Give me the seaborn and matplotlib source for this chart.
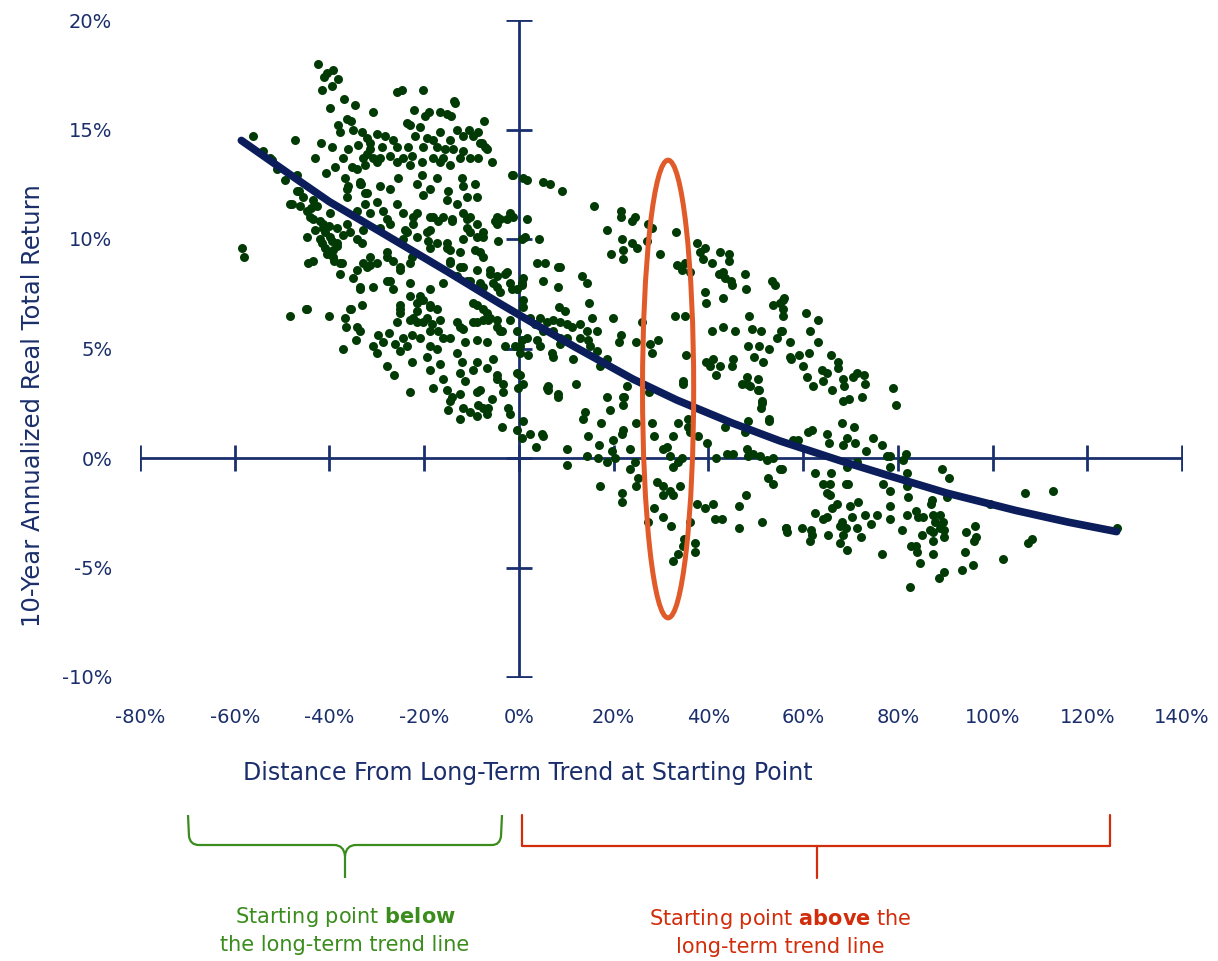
import numpy as np
import pandas as pd
import matplotlib
matplotlib.use("Agg")
import matplotlib.pyplot as plt
from matplotlib.patches import Ellipse, PathPatch
from matplotlib.path import Path
import seaborn as sns

# ---- data (percent) ----
# starting points far below trend (x < -30)
far_below = [
    (-42.4, 18.0), (-40.5, 17.6), (-39.3, 17.7), (-41.2, 17.4), (-38.2, 17.3), (-39.5, 17.0), (-41.6, 16.8),
    (-37.0, 16.4), (-39.9, 16.0), (-34.6, 16.1), (-30.8, 15.8), (-36.3, 15.5), (-35.5, 15.4), (-38.2, 15.2),
    (-37.8, 14.9), (-35.1, 15.0), (-33.2, 14.9), (-32.1, 14.6), (-56.2, 14.7), (-47.3, 14.5), (-41.8, 14.4),
    (-39.5, 14.2), (-34.0, 14.3), (-36.1, 14.1), (-37.2, 13.7), (-31.5, 14.1), (-33.0, 13.7), (-30.8, 13.7),
    (-43.1, 13.7), (-38.9, 13.3), (-35.3, 13.3), (-32.5, 13.4), (-40.8, 13.0), (-36.7, 12.8), (-33.6, 12.6),
    (-52.2, 13.6), (-51.1, 13.2), (-46.9, 12.9), (-49.4, 12.7), (-54.1, 14.0), (-52.6, 13.7),
    (-30.0, 14.8), (-31.5, 14.4), (-32.1, 13.9), (-30.0, 13.5), (-34.2, 13.2), (-36.1, 12.4), (-33.4, 12.5),
    (-36.3, 11.9), (-32.1, 12.1), (-30.0, 11.7), (-47.9, 11.6), (-46.3, 11.5), (-44.8, 11.3), (-42.7, 11.5),
    (-39.9, 11.2), (-34.2, 11.3), (-31.5, 11.2), (-44.1, 11.0), (-41.4, 10.7), (-38.4, 10.5), (-36.3, 10.7),
    (-33.0, 10.4), (-44.8, 10.1), (-42.0, 10.0), (-39.9, 10.1), (-37.2, 10.2), (-34.2, 10.0), (-58.5, 9.6),
    (-58.1, 9.2), (-44.6, 8.9), (-43.5, 9.0), (-41.0, 9.6), (-39.3, 9.5), (-37.8, 8.9), (-33.2, 9.8),
    (-31.5, 9.2), (-30.0, 8.9), (-37.8, 8.4), (-35.1, 8.2), (-33.6, 7.8), (-30.8, 7.8), (-32.1, 8.7),
    (-48.4, 11.6), (-46.9, 12.2), (-43.5, 10.9), (-41.4, 10.5), (-38.4, 9.8), (-39.3, 9.2), (-37.4, 8.9),
    (-34.2, 8.6), (-35.7, 10.3), (-36.3, 12.3), (-33.6, 12.5), (-32.5, 12.1), (-32.5, 11.6), (-44.8, 6.8),
    (-35.7, 6.8), (-33.0, 8.9), (-31.5, 8.8), (-42.0, 10.8), (-41.0, 10.3), (-40.0, 10.6), (-39.5, 9.9),
    (-38.5, 9.7), (-40.5, 9.3), (-39.0, 9.0), (-41.5, 9.8), (-43.0, 10.4), (-44.0, 11.4), (-45.5, 11.9),
    (-46.5, 12.2), (-43.5, 11.8), (-48.4, 6.5), (-45.0, 6.8), (-40.1, 6.5), (-36.7, 6.4), (-35.5, 6.8),
    (-33.2, 7.0), (-33.6, 7.7), (-36.5, 6.0), (-34.2, 6.0), (-33.6, 5.8), (-37.2, 5.0), (-34.4, 5.4),
    (-30.8, 5.1),
]

# starting points moderately below trend (-30 <= x < 0)
near_below = [
    (-25.8, 16.7), (-24.7, 16.8), (-20.3, 16.8), (-13.7, 16.3), (-22.2, 15.9), (-19.0, 15.8), (-19.9, 15.6),
    (-16.7, 15.8), (-15.2, 15.7), (-14.4, 15.6), (-23.7, 15.3), (-23.0, 15.2), (-7.4, 15.4), (-20.9, 15.1),
    (-16.7, 14.9), (-13.1, 15.0), (-10.6, 15.0), (-8.7, 14.9), (-28.3, 14.7), (-26.6, 14.5), (-22.0, 14.7),
    (-19.4, 14.6), (-18.2, 14.5), (-14.6, 14.5), (-11.8, 14.7), (-9.7, 14.7), (-7.8, 14.4), (-28.9, 14.2),
    (-25.8, 14.2), (-23.4, 14.2), (-20.3, 14.2), (-17.3, 14.2), (-15.6, 14.1), (-13.9, 14.1), (-11.8, 14.0),
    (-7.2, 14.2), (-29.4, 13.7), (-27.2, 13.8), (-24.5, 13.7), (-22.6, 13.8), (-18.2, 13.7), (-16.1, 13.7),
    (-12.5, 13.7), (-10.3, 13.7), (-8.7, 13.7), (-5.7, 13.5), (-25.8, 13.5), (-23.0, 13.4), (-20.5, 13.5),
    (-16.7, 13.5), (-14.6, 13.4), (-25.6, 12.8), (-20.5, 12.9), (-17.3, 12.8), (-12.0, 12.8), (-1.3, 12.9),
    (-29.4, 12.4), (-27.2, 12.3), (-21.5, 12.5), (-18.8, 12.3), (-15.0, 12.2), (-11.8, 12.4), (-9.3, 12.5),
    (-25.8, 11.6), (-20.3, 12.0), (-15.2, 11.8), (-13.1, 11.6), (-11.0, 11.9), (-8.9, 11.9), (-28.7, 11.3),
    (-24.5, 11.2), (-21.5, 11.2), (-18.2, 11.0), (-16.1, 11.0), (-11.8, 11.2), (-10.3, 11.0), (-4.6, 11.0),
    (-1.9, 11.2), (-29.4, 10.5), (-27.2, 10.7), (-24.1, 10.4), (-22.4, 10.7), (-18.8, 10.4), (-14.1, 10.8),
    (-11.0, 10.5), (-7.6, 10.3), (-4.6, 10.7), (-1.3, 11.0), (-24.5, 10.0), (-21.5, 10.1), (-19.2, 9.9),
    (-15.2, 9.8), (-11.8, 10.0), (-8.9, 10.1), (-4.4, 9.9), (-27.9, 9.4), (-26.6, 9.0), (-22.6, 9.2),
    (-18.8, 9.6), (-17.3, 9.8), (-14.6, 9.5), (-12.5, 9.4), (-9.3, 9.5), (-7.6, 9.2), (-14.6, 8.9),
    (-11.8, 8.7), (-8.9, 8.6), (-6.1, 8.6), (-4.6, 8.3), (-2.5, 8.5), (-1.9, 8.0), (-27.2, 8.1),
    (-25.1, 8.6), (-23.0, 8.0), (-20.9, 7.4), (-18.8, 7.7), (-16.1, 8.0), (-13.1, 8.3), (-10.3, 8.1),
    (-7.6, 7.8), (-4.6, 7.8), (-13.5, 16.2), (-8.2, 14.4), (-6.8, 14.1), (-1.5, 12.9), (-27.9, 10.9),
    (-22.4, 11.0), (-18.8, 11.0), (-17.1, 10.8), (-14.1, 10.9), (-11.0, 10.9), (-8.9, 10.7), (-5.1, 10.8),
    (-23.7, 10.3), (-19.4, 10.3), (-10.3, 10.3), (-7.6, 10.1), (-15.2, 9.6), (-8.2, 9.4), (-27.9, 9.2),
    (-25.1, 8.7), (-23.0, 8.9), (-14.6, 9.0), (-12.5, 8.7), (-6.1, 8.4), (-11.0, 8.1), (-8.2, 8.0),
    (-5.5, 8.0), (-4.0, 7.6), (-1.5, 7.7), (-27.9, 8.1), (-26.6, 7.7), (-23.0, 7.4), (-20.9, 7.2),
    (-18.8, 7.0), (-9.7, 7.1), (-7.6, 6.8), (-6.1, 6.4), (-4.6, 6.3), (-8.9, 6.2), (-12.5, 6.0),
    (-20.3, 6.2), (-22.4, 6.4), (-25.1, 6.8), (-1.9, 6.3), (-29.8, 5.6), (-28.7, 5.3), (-27.5, 5.7),
    (-30.0, 4.8), (-26.2, 5.2), (-25.1, 4.9), (-23.7, 5.1), (-24.5, 5.5), (-22.6, 5.6), (-20.9, 5.5),
    (-27.9, 4.2), (-26.4, 3.8), (-22.6, 4.4), (-23.0, 3.0), (-25.8, 6.2), (-25.1, 6.6), (-25.1, 7.0),
    (-21.5, 7.1), (-21.5, 6.7), (-20.3, 7.2), (-18.8, 6.9), (-17.3, 6.8), (-23.0, 6.3), (-21.5, 6.2),
    (-19.4, 6.4), (-18.4, 6.1), (-16.7, 6.3), (-18.8, 5.8), (-17.1, 5.8), (-16.1, 5.5), (-14.6, 5.5),
    (-18.8, 5.1), (-17.3, 5.0), (-19.4, 4.6), (-16.7, 4.3), (-18.8, 4.0), (-16.1, 3.6), (-18.2, 3.2),
    (-13.1, 6.2), (-11.8, 5.9), (-9.7, 6.2), (-11.4, 5.3), (-13.1, 4.8), (-12.0, 4.4), (-9.7, 4.0),
    (-8.9, 4.4), (-12.5, 3.9), (-11.4, 3.5), (-8.9, 3.0), (-8.7, 2.4), (-12.5, 2.9), (-14.1, 2.8),
    (-15.0, 2.2), (-12.5, 1.8), (-8.9, 1.9), (-6.8, 2.0), (-7.6, 2.3), (-6.5, 2.3), (-5.7, 2.7),
    (-8.9, 5.4), (-6.8, 5.3), (-5.5, 4.5), (-6.8, 4.1), (-4.6, 3.8), (-3.4, 3.4), (-4.6, 3.6),
    (-3.4, 3.0), (-2.3, 2.3), (-1.9, 2.0), (-3.6, 1.4), (-0.4, 1.3), (-6.8, 6.6), (-7.6, 6.3),
    (-4.6, 6.0), (-4.0, 5.8), (-8.9, 7.0), (-6.5, 6.3), (-0.8, 5.1), (-0.4, 3.9), (-0.2, 3.2),
    (-0.4, 7.7), (-15.2, 3.1), (-14.6, 2.6), (-11.8, 2.3), (-10.3, 2.1), (-8.2, 3.1), (-2.5, 10.9),
    (-4.0, 10.9), (-3.0, 8.4), (-0.4, 5.8), (-3.6, 5.8), (-3.0, 5.1),
]

# starting points moderately above trend (0 <= x < 40)
near_above = [
    (0.8, 12.8), (1.7, 12.7), (5.1, 12.6), (6.5, 12.5), (9.1, 12.2), (1.7, 10.9), (15.8, 11.5),
    (21.5, 11.3), (21.5, 11.0), (23.9, 10.8), (24.5, 11.0), (28.1, 10.5), (27.2, 10.7), (18.6, 10.4),
    (0.6, 10.0), (1.3, 10.1), (4.2, 10.0), (21.8, 10.0), (23.9, 9.8), (24.9, 9.6), (27.0, 9.9),
    (33.2, 10.3), (22.0, 9.5), (19.4, 9.3), (22.0, 9.1), (29.8, 9.3), (37.6, 9.8), (39.3, 9.6),
    (38.2, 9.4), (38.9, 9.1), (3.8, 8.9), (5.5, 8.9), (33.4, 8.8), (35.1, 8.9), (34.4, 8.6),
    (36.1, 8.5), (8.2, 8.7), (8.7, 8.7), (13.3, 8.3), (14.4, 8.0), (5.1, 8.1), (0.8, 8.2),
    (0.6, 8.0), (8.2, 7.8), (39.3, 7.6), (39.5, 7.1), (14.8, 7.1), (8.4, 6.9), (9.7, 6.7),
    (15.4, 6.4), (19.9, 6.4), (26.0, 6.2), (32.9, 6.5), (35.1, 6.5), (21.5, 5.6), (21.1, 5.3),
    (24.7, 5.3), (27.7, 5.2), (29.4, 5.4), (28.1, 4.8), (35.3, 4.7), (39.5, 4.4), (34.6, 3.5),
    (18.6, 4.5), (17.1, 4.2), (12.0, 3.4), (6.1, 3.3), (6.1, 3.1), (8.2, 2.8), (22.8, 3.3),
    (18.6, 2.8), (22.0, 2.8), (0.8, 7.2), (0.8, 6.9), (0.6, 7.9), (0.2, 3.8), (0.8, 3.4),
    (0.8, 1.7), (0.6, 0.9), (2.3, 6.4), (4.4, 6.4), (3.4, 6.1), (5.9, 6.2), (7.2, 6.3),
    (8.7, 6.2), (10.1, 6.1), (11.2, 6.0), (12.9, 6.1), (14.4, 5.8), (16.5, 5.8), (5.1, 5.8),
    (7.2, 5.8), (8.7, 5.5), (10.1, 5.5), (12.9, 5.5), (14.6, 5.4), (4.4, 5.1), (7.0, 4.8),
    (7.2, 4.6), (1.9, 4.7), (0.2, 5.1), (0.2, 4.8), (11.4, 4.5), (8.7, 5.2), (15.0, 5.1),
    (16.5, 4.9), (3.8, 5.4), (1.7, 5.5), (0.6, 5.4), (5.9, 3.2), (8.2, 2.9), (2.3, 1.1),
    (4.9, 1.1), (5.1, 1.0), (3.6, 0.5), (10.1, 0.4), (10.1, -0.3), (13.9, 2.1), (13.5, 1.8),
    (17.3, 1.6), (19.2, 2.2), (22.2, 2.8), (22.0, 2.4), (14.6, 1.0), (16.9, 0.6), (14.4, 0.1),
    (16.7, 0.0), (19.6, 0.3), (20.3, 0.0), (18.6, -0.2), (19.9, 0.8), (22.0, 1.3), (21.8, 1.1),
    (23.4, 0.4), (23.4, -0.5), (24.5, -0.2), (24.7, 1.6), (27.5, 3.0), (28.1, 1.6), (28.5, 1.0),
    (30.4, 0.4), (31.3, 0.5), (31.9, 0.1), (32.5, 1.0), (32.5, -0.4), (33.6, -0.2), (34.4, 0.0),
    (33.6, 1.6), (35.7, 1.8), (35.7, 1.4), (36.1, 1.2), (34.6, 3.4), (37.8, 1.0), (39.7, 0.7),
    (17.1, -1.3), (21.8, -1.6), (21.8, -2.0), (24.7, -1.3), (25.1, -0.9), (29.1, -1.1), (30.4, -1.3),
    (31.9, -1.5), (32.5, -1.7), (34.0, -1.3), (30.4, -1.7), (28.5, -2.3), (30.4, -2.7), (27.2, -2.9),
    (32.1, -3.1), (36.1, -2.9), (37.6, -2.1), (39.3, -2.3), (34.8, -3.7), (34.6, -4.0), (37.2, -3.9),
    (37.2, -4.3), (33.6, -4.4), (32.5, -4.7),
]

# starting points far above trend (x >= 40)
far_above = [
    (41.6, 0.0), (43.9, 0.2), (45.2, 0.2), (48.2, 0.4), (48.4, 0.1), (49.4, 0.2), (50.9, 0.1),
    (52.4, -0.1), (53.6, 0.0), (55.1, -0.5), (52.6, -0.9), (53.6, -1.2), (47.7, 1.2), (48.4, 1.7),
    (52.8, 1.7), (51.3, 2.5), (48.2, 3.4), (50.5, 3.1), (57.9, 0.8), (43.5, 1.4), (41.0, -2.1),
    (41.4, -2.8), (42.9, -2.8), (46.5, -2.2), (46.5, -3.2), (47.9, -1.7), (51.3, -2.9), (56.4, -3.2),
    (56.6, -3.4), (42.5, 9.4), (44.4, 9.3), (44.4, 9.0), (40.8, 8.9), (42.2, 8.4), (43.1, 8.5),
    (43.5, 8.2), (44.8, 8.1), (45.0, 7.9), (47.7, 8.4), (47.9, 7.7), (53.4, 8.1), (54.1, 7.9),
    (43.1, 7.3), (53.6, 7.0), (55.1, 7.1), (56.0, 7.3), (55.8, 6.8), (55.8, 6.5), (48.6, 6.5),
    (60.6, 6.6), (63.1, 6.3), (40.8, 5.8), (43.1, 6.0), (45.6, 5.8), (49.2, 5.9), (51.1, 5.8),
    (55.3, 5.8), (54.5, 5.5), (61.5, 5.8), (48.4, 5.1), (50.7, 5.1), (52.8, 5.0), (57.2, 5.3),
    (63.1, 5.3), (49.6, 4.6), (51.5, 4.4), (57.2, 4.6), (59.1, 4.7), (61.2, 4.8), (60.0, 4.2),
    (65.9, 4.7), (67.4, 4.4), (67.4, 4.1), (64.0, 4.0), (65.0, 3.9), (60.8, 3.7), (62.0, 3.3),
    (64.2, 3.5), (66.1, 3.1), (68.4, 3.6), (68.6, 3.3), (70.5, 3.7), (71.4, 3.9), (72.9, 3.8),
    (73.1, 3.4), (68.4, 2.6), (69.7, 2.7), (72.4, 2.8), (41.0, 4.5), (40.3, 4.2), (42.5, 4.2),
    (41.6, 3.8), (45.2, 4.5), (45.0, 4.2), (48.2, 3.7), (47.1, 3.4), (48.8, 3.3), (50.5, 3.6),
    (50.7, 3.1), (51.3, 2.6), (51.1, 2.3), (52.8, 1.8), (55.8, 7.2), (55.5, 5.8), (57.4, 4.5),
    (79.0, 3.2), (79.6, 2.4), (68.2, 1.6), (70.8, 1.4), (61.0, 1.2), (61.9, 1.3), (65.0, 1.1),
    (69.3, 0.9), (68.4, 0.6), (65.5, 0.7), (71.0, 0.7), (74.8, 0.9), (76.7, 0.6), (73.3, 0.3),
    (77.7, 0.1), (78.4, 0.1), (81.7, 0.2), (81.1, -0.1), (58.9, 0.8), (55.5, -0.5), (62.5, -0.7),
    (65.9, -0.7), (71.4, -0.2), (69.3, -0.4), (78.4, -0.4), (81.9, -0.7), (89.3, -0.5), (90.8, -0.9),
    (64.2, -1.2), (65.7, -1.2), (69.1, -1.2), (69.5, -1.2), (65.0, -1.6), (65.7, -1.7), (76.9, -1.2),
    (78.4, -1.5), (81.9, -1.3), (82.2, -1.8), (67.2, -2.1), (66.1, -2.3), (71.6, -2.0), (69.9, -2.2),
    (78.4, -2.2), (87.2, -1.9), (87.0, -2.1), (62.5, -2.5), (64.2, -2.8), (65.0, -2.7), (70.3, -2.7),
    (73.1, -2.6), (75.6, -2.6), (74.3, -3.0), (78.4, -2.8), (81.9, -2.6), (83.8, -2.4), (84.3, -2.7),
    (85.3, -2.7), (87.4, -2.6), (88.9, -2.6), (87.9, -2.9), (89.5, -2.9), (88.9, -3.2), (89.8, -3.6),
    (87.4, -3.8), (87.4, -3.4), (56.4, -3.2), (59.8, -3.2), (61.7, -3.3), (61.9, -3.5), (61.5, -3.8),
    (65.3, -3.5), (67.8, -3.1), (68.2, -2.9), (69.1, -3.2), (71.4, -3.2), (72.2, -3.6), (68.4, -3.5),
    (67.8, -3.9), (69.3, -4.2), (76.7, -4.4), (80.9, -3.3), (82.8, -4.0), (83.8, -4.0), (84.1, -4.3),
    (84.7, -4.8), (85.1, -3.5), (86.8, -3.3), (89.8, -3.3), (87.4, -4.4), (89.8, -5.2), (88.7, -5.5),
    (82.6, -5.9), (94.4, -3.4), (96.3, -3.1), (96.5, -3.6), (96.1, -3.8), (94.2, -4.3), (95.9, -4.9),
    (93.6, -5.1), (102.2, -4.6), (106.9, -1.6), (112.8, -1.5), (108.3, -3.7), (107.5, -3.9), (126.3, -3.2),
    (99.5, -2.1), (90.4, -1.8),
]

# trend line
trend_x = [-58.6, -47.7, -40, -29.4, -15, -4, 2.3, 12, 24.1, 33.3, 45, 55.1, 67.8, 78, 90.3, 105, 116, 126.2]
trend_y = [14.5, 12.85, 11.7, 10.35, 8.5, 7.05, 6.25, 5.05, 3.6, 2.65, 1.6, 0.78, -0.12, -0.8, -1.6, -2.4, -2.93, -3.36]

x_ticks = [-80, -60, -40, -20, 0, 20, 40, 60, 80, 100, 120, 140]
y_ticks = [-10, -5, 0, 5, 10, 15, 20]

# highlighted group (orange ring): centre and size in percent
ring_center = (31.5, 3.15)
ring_size = (10.8, 20.9)

GREEN = "#023a05"
NAVY = "#0b1d5a"
AXIS = "#1a2f6e"
TEXT = "#1a2e6b"
ORANGE = "#e05a2a"
BRACE_GREEN = "#3a8c1c"
BRACE_RED = "#d22d0b"

pts = pd.DataFrame(far_below + near_below + near_above + far_above, columns=["dist", "ret"])

sns.set_theme(style="white")
plt.rcParams["font.family"] = ["DejaVu Sans"]
plt.rcParams["mathtext.fontset"] = "dejavusans"

W, H = 1218, 961
fig = plt.figure(figsize=(W / 100, H / 100), dpi=100)
ax = fig.add_axes([140 / W, 1 - 677 / H, 1042 / W, 657 / H])

# cross-hair axes through the origin
ax.axhline(0, color=AXIS, lw=2, zorder=1)
ax.axvline(0, color=AXIS, lw=2, zorder=1)
ax.plot(x_ticks, [0] * len(x_ticks), ls="none", marker="|", ms=19, mew=2, color=AXIS, zorder=1)
ax.plot([0] * len(y_ticks), y_ticks, ls="none", marker="_", ms=19, mew=2, color=AXIS, zorder=1)

sns.scatterplot(data=pts, x="dist", y="ret", color=GREEN, s=42, linewidth=0, ax=ax, zorder=2)
sns.lineplot(x=trend_x, y=trend_y, sort=False, color=NAVY, lw=5.5, ax=ax, zorder=3,
             solid_capstyle="round")

ax.add_patch(Ellipse(ring_center, ring_size[0], ring_size[1], fill=False,
                     edgecolor=ORANGE, lw=3.6, zorder=4))

ax.set_xlim(-80, 140)
ax.set_ylim(-10, 20)
ax.set_xticks(x_ticks)
ax.set_xticklabels([f"{t}%" for t in x_ticks])
ax.set_yticks(y_ticks)
ax.set_yticklabels([f"{t}%" for t in y_ticks])
ax.tick_params(axis="both", length=0, labelsize=14, labelcolor=TEXT)
ax.tick_params(axis="x", pad=22)
ax.tick_params(axis="y", pad=20)
ax.set_xlabel("")
ax.set_ylabel("")
for sp in ax.spines.values():
    sp.set_visible(False)
ax.patch.set_alpha(0)

fig.text(528 / W, 1 - 773 / H, "Distance From Long-Term Trend at Starting Point",
         ha="center", va="center", fontsize=17, color=TEXT)
fig.text(33 / W, 1 - 406 / H, "10-Year Annualized Real Total Return", rotation=90,
         ha="center", va="center", fontsize=17.5, color=TEXT,
         family=["Liberation Sans Narrow", "DejaVu Sans"])

# brackets under the axis, drawn in pixel space
deco = fig.add_axes([0, 0, 1, 1], zorder=-1)
deco.set_xlim(0, W)
deco.set_ylim(H, 0)
deco.axis("off")

C3, L, M = Path.CURVE3, Path.LINETO, Path.MOVETO
brace = Path(
    [(188, 815), (189, 836), (190, 845), (199, 845), (334, 845), (344, 845), (345, 856), (345, 878),
     (345, 856), (346, 845), (356, 845), (492, 845), (500, 845), (501, 836), (502, 815)],
    [M, L, C3, C3, L, C3, C3, L, M, C3, C3, L, C3, C3, L])
deco.add_patch(PathPatch(brace, fill=False, edgecolor=BRACE_GREEN, lw=1.6))
deco.plot([522, 522, 1110, 1110], [815, 846, 846, 815], color=BRACE_RED, lw=1.6)
deco.plot([817, 817], [846, 878], color=BRACE_RED, lw=1.6)

deco.text(345, 917, "Starting point $\\mathbf{below}$", ha="center", va="center",
          fontsize=15, color=BRACE_GREEN)
deco.text(345, 945, "the long-term trend line", ha="center", va="center",
          fontsize=15, color=BRACE_GREEN)
deco.text(780, 919, "Starting point $\\mathbf{above}$ the", ha="center", va="center",
          fontsize=15, color=BRACE_RED)
deco.text(780, 947, "long-term trend line", ha="center", va="center",
          fontsize=15, color=BRACE_RED)

fig.savefig("out.png", dpi=100)
